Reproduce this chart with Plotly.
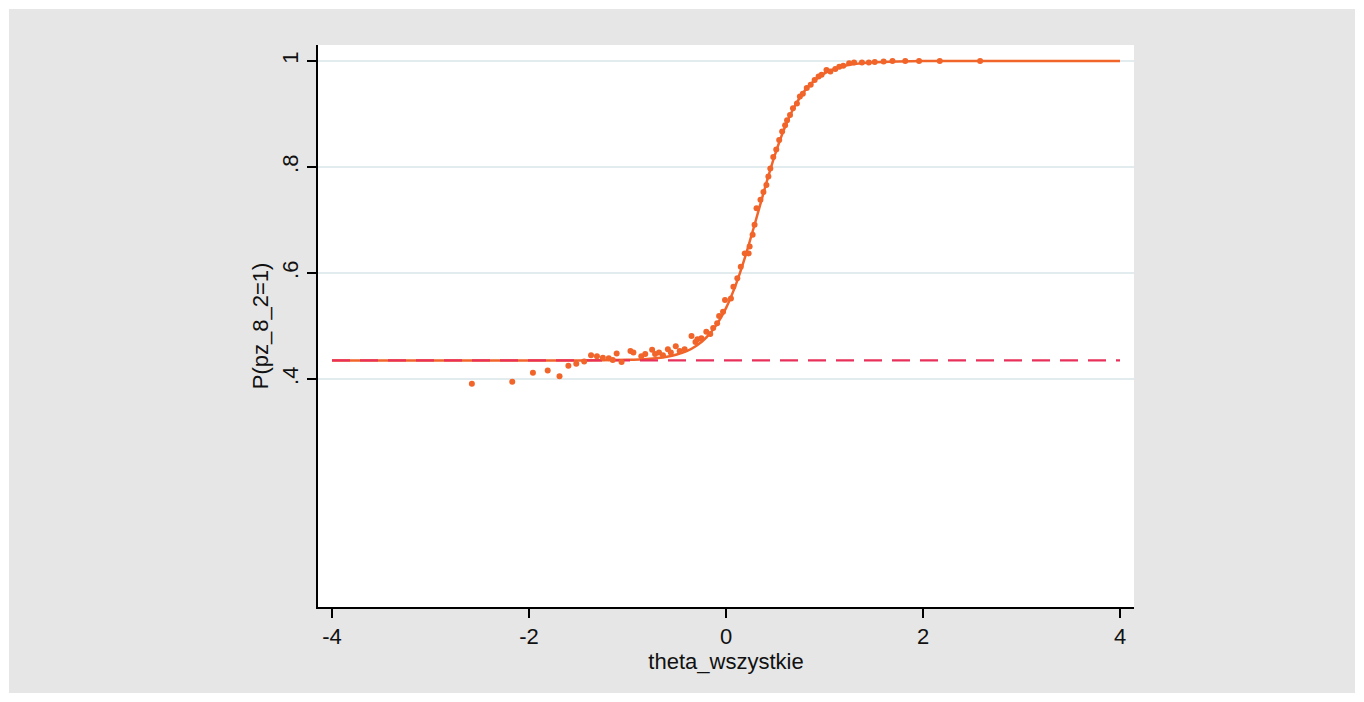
import plotly.graph_objects as go

# Observed proportions (scatter)
obs_x = [-2.58, -2.17, -1.96, -1.81, -1.69, -1.60, -1.52, -1.44, -1.37, -1.31, -1.25, -1.19,
         -1.15, -1.11, -1.06, -0.97, -0.94, -0.86, -0.82, -0.75, -0.72, -0.68, -0.64, -0.59,
         -0.56, -0.51, -0.47, -0.42, -0.35, -0.31, -0.29, -0.25, -0.20, -0.16, -0.13, -0.09,
         -0.07, -0.03, -0.01, 0.05, 0.075, 0.115, 0.15, 0.19, 0.23, 0.24, 0.27, 0.29, 0.31,
         0.35, 0.38, 0.41, 0.43, 0.45, 0.48, 0.51, 0.54, 0.57, 0.60, 0.62, 0.65, 0.68, 0.72,
         0.75, 0.78, 0.82, 0.86, 0.90, 0.94, 0.97, 1.02, 1.06, 1.11, 1.15, 1.19, 1.25, 1.30,
         1.38, 1.45, 1.51, 1.60, 1.69, 1.82, 1.96, 2.17, 2.58]
obs_y = [0.391, 0.395, 0.412, 0.416, 0.405, 0.425, 0.429, 0.433, 0.445, 0.443, 0.440, 0.439,
         0.436, 0.448, 0.432, 0.453, 0.450, 0.443, 0.447, 0.455, 0.447, 0.450, 0.445, 0.456,
         0.450, 0.462, 0.453, 0.456, 0.481, 0.470, 0.475, 0.477, 0.489, 0.485, 0.496, 0.505,
         0.519, 0.527, 0.549, 0.552, 0.574, 0.590, 0.612, 0.637, 0.637, 0.650, 0.672, 0.691, 0.722,
         0.738, 0.753, 0.766, 0.782, 0.797, 0.819, 0.833, 0.851, 0.867, 0.879, 0.888, 0.898, 0.911, 0.920,
         0.933, 0.938, 0.949, 0.955, 0.964, 0.971, 0.974, 0.983, 0.980, 0.985, 0.989, 0.991, 0.996, 0.997,
         0.997, 0.997, 0.998, 0.999, 1.0, 1.0, 1.0, 1.0, 1.0]

# Fitted item characteristic curve
icc_x = [-4, -3, -2, -1.5, -1.0, -0.8, -0.6, -0.5, -0.4, -0.3, -0.2, -0.1, 0.0, 0.1, 0.2,
         0.3, 0.4, 0.5, 0.6, 0.7, 0.8, 0.9, 1.0, 1.1, 1.2, 1.3, 1.5, 1.75, 2.0, 2.5, 3.0, 4.0]
icc_y = [0.435, 0.435, 0.435, 0.4351, 0.4361, 0.4378, 0.4421, 0.4462, 0.4527, 0.4629, 0.4783,
         0.5012, 0.5338, 0.5781, 0.6338, 0.6976, 0.7636, 0.8247, 0.8760, 0.9156, 0.9441, 0.9637,
         0.9768, 0.9853, 0.9907, 0.9941, 0.9977, 0.9993, 0.9998, 1.0, 1.0, 1.0]

# Guessing parameter (lower asymptote)
guess_x = [-4, 4]
guess_y = [0.435, 0.435]

x_ticks = [-4, -2, 0, 2, 4]
x_ticktext = ["-4", "-2", "0", "2", "4"]
y_ticks = [0.4, 0.6, 0.8, 1.0]
y_ticktext = [".4", ".6", ".8", "1"]

ORANGE = "#f1642a"
RED = "#e8305a"
FONT = "Liberation Sans, Arial, sans-serif"

fig = go.Figure()
fig.add_trace(go.Scatter(x=icc_x, y=icc_y, mode="lines",
                         line=dict(color=ORANGE, width=2.5, shape="spline", smoothing=0.6),
                         hoverinfo="skip", showlegend=False))
fig.add_trace(go.Scatter(x=guess_x, y=guess_y, mode="lines",
                         line=dict(color=RED, width=2.2, dash="18px,10px"),
                         hoverinfo="skip", showlegend=False))
fig.add_trace(go.Scatter(x=obs_x, y=obs_y, mode="markers",
                         marker=dict(color=ORANGE, size=6, line=dict(width=0)),
                         showlegend=False))

fig.update_layout(
    width=1364, height=702,
    margin=dict(l=318, r=230, t=45, b=95),
    paper_bgcolor="#e6e6e6",
    plot_bgcolor="white",
    font=dict(family=FONT, size=22, color="#111111"),
    shapes=[dict(type="rect", xref="paper", yref="paper",
                 x0=-318/816, x1=(1364-318)/816, y0=-95/562, y1=(702-95)/562,
                 line=dict(color="white", width=18), fillcolor="rgba(0,0,0,0)",
                 layer="above")],
)
fig.update_xaxes(range=[-4.142, 4.142], tickvals=x_ticks, ticktext=x_ticktext,
                 showgrid=False, zeroline=False, showline=True, linecolor="black",
                 linewidth=1.5, ticks="outside", ticklen=9, tickwidth=1.5,
                 tickcolor="black", tickfont=dict(size=22),
                 title=dict(text="theta_wszystkie", standoff=2,
                            font=dict(family=FONT, size=22)))
fig.update_yaxes(range=[-0.0302, 1.0302], tickvals=y_ticks, ticktext=y_ticktext,
                 tickangle=-90, showgrid=True, gridcolor="#e2ecef", gridwidth=2,
                 zeroline=False, showline=True, linecolor="black", linewidth=1.5,
                 ticks="outside", ticklen=9, tickwidth=1.5, tickcolor="black",
                 tickfont=dict(size=22),
                 title=dict(text="P(pz_8_2=1)", standoff=4,
                            font=dict(family=FONT, size=22)))

fig.write_html("out.html", config={"displayModeBar": False},
               post_script="document.body.style.margin='0';document.body.style.padding='0';")
